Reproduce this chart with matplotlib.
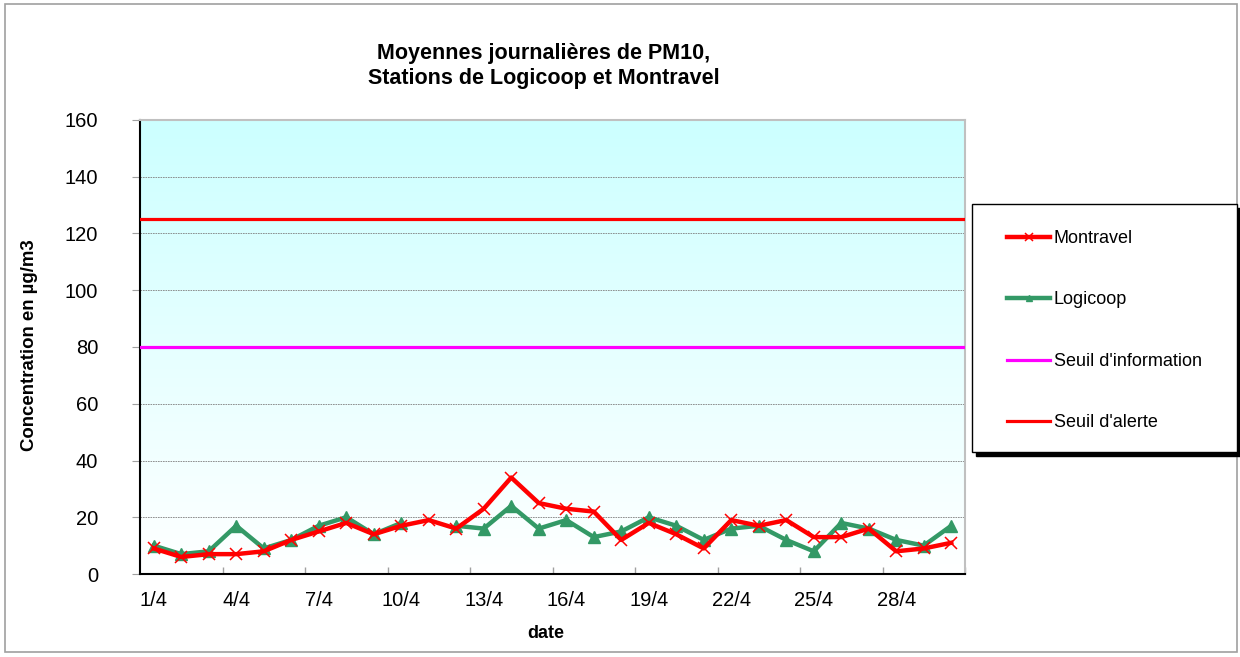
import numpy as np
import matplotlib
matplotlib.use("Agg")
import matplotlib.pyplot as plt
from matplotlib.patches import Rectangle
from matplotlib.colors import LinearSegmentedColormap

plt.rcParams['font.family'] = ['Liberation Sans', 'DejaVu Sans']

days = [f"{d}/4" for d in range(1, 31)]
montravel = [9, 6, 7, 7, 8, 12, 15, 18, 14, 17, 19, 16, 23, 34, 25,
             23, 22, 12, 18, 14, 9, 19, 17, 19, 13, 13, 16, 8, 9, 11]
logicoop = [10, 7, 8, 17, 9, 12, 17, 20, 14, 18, np.nan, 17, 16, 24, 16,
            19, 13, 15, 20, 17, 12, 16, 17, 12, 8, 18, 16, 12, 10, 17]
seuil_information = 80
seuil_alerte = 125
yticks = [0, 20, 40, 60, 80, 100, 120, 140, 160]

W, H = 1240, 657
fig = plt.figure(figsize=(W / 100, H / 100), dpi=100)
fig.patches.append(Rectangle((5 / W, 5 / H), 1232 / W, 648 / H, transform=fig.transFigure,
                             fill=False, edgecolor='#a0a0a0', linewidth=1.2))

ax = fig.add_axes([140 / W, 1 - 574 / H, 825 / W, 454 / H])
x = np.arange(len(days))

# gradient background
cmap = LinearSegmentedColormap.from_list('bg', ['#ffffff', '#ccffff'])
grad = np.linspace(0, 1, 256).reshape(-1, 1)
ax.imshow(grad, extent=[0, 1, 0, 1], transform=ax.transAxes, origin='lower',
          aspect='auto', cmap=cmap, zorder=0)

ax.set_xlim(-0.5, len(days) - 0.5)
ax.set_ylim(0, 160)
ax.set_yticks(yticks)
ax.yaxis.grid(True, color='#808080', linestyle=(0, (2, 1)), linewidth=0.6, zorder=1)
ax.set_axisbelow(True)

l_info = ax.axhline(seuil_information, color='#ff00ff', linewidth=2.3, zorder=3)
l_alerte = ax.axhline(seuil_alerte, color='#ff0000', linewidth=2.3, zorder=3)

l_log, = ax.plot(x, logicoop, color='#339966', linewidth=3.2, marker='^', markersize=8,
                 markeredgecolor='#339966', markerfacecolor='#339966', zorder=4)
l_mon, = ax.plot(x, montravel, color='#ff0000', linewidth=3.2, marker='x', markersize=9,
                 markeredgewidth=1.1, zorder=5)

# x ticks: labels every 3 days at category centres, tick marks at boundaries
ax.set_xticks(x[::3])
ax.set_xticklabels(days[::3], fontsize=14.5)
ax.tick_params(axis='x', length=0, pad=12)
ax.set_xticks(np.arange(2.5, len(days), 3), minor=True)
ax.tick_params(axis='x', which='minor', direction='in', length=5, color='#a0a0a0', width=1)
ax.tick_params(axis='y', labelsize=14.5, length=6, color='#a0a0a0', pad=24)

for side in ['top', 'right']:
    ax.spines[side].set_color('#c0c0c0')
    ax.spines[side].set_linewidth(1.5)
for side in ['left', 'bottom']:
    ax.spines[side].set_color('black')
    ax.spines[side].set_linewidth(1.5)

fig.text(544 / W, 1 - 66 / H, "Moyennes journalières de PM10,\nStations de Logicoop et Montravel",
         ha='center', va='center', fontsize=15.5, fontweight='bold', linespacing=1.2)
fig.text(546 / W, 1 - 633 / H, "date", ha='center', va='center', fontsize=13, fontweight='bold')
fig.text(30 / W, 1 - 345 / H, "Concentration en µg/m3", ha='center', va='center',
         rotation=90, fontsize=13.4, fontweight='bold')

# legend frame with black shadow
lx0, ly0, lw, lh = 972, 204, 265, 248
fig.patches.append(Rectangle(((lx0 + 4) / W, 1 - (ly0 + lh + 4) / H), lw / W, lh / H,
                             transform=fig.transFigure, facecolor='black', edgecolor='black',
                             zorder=5))
fig.patches.append(Rectangle((lx0 / W, 1 - (ly0 + lh) / H), lw / W, lh / H,
                             transform=fig.transFigure, facecolor='white', edgecolor='black',
                             linewidth=1.0, zorder=6))

leg = fig.legend([l_mon, l_log, l_info, l_alerte],
                 ["Montravel", "Logicoop", "Seuil d'information", "Seuil d'alerte"],
                 loc='upper left', bbox_to_anchor=(1007 / W, 1 - 230 / H),
                 fontsize=13, frameon=False, labelspacing=2.46, handlelength=2.4,
                 handletextpad=0.2, borderpad=0, borderaxespad=0, markerscale=0.6)
leg.set_zorder(7)

fig.savefig("out.png", dpi=100)
